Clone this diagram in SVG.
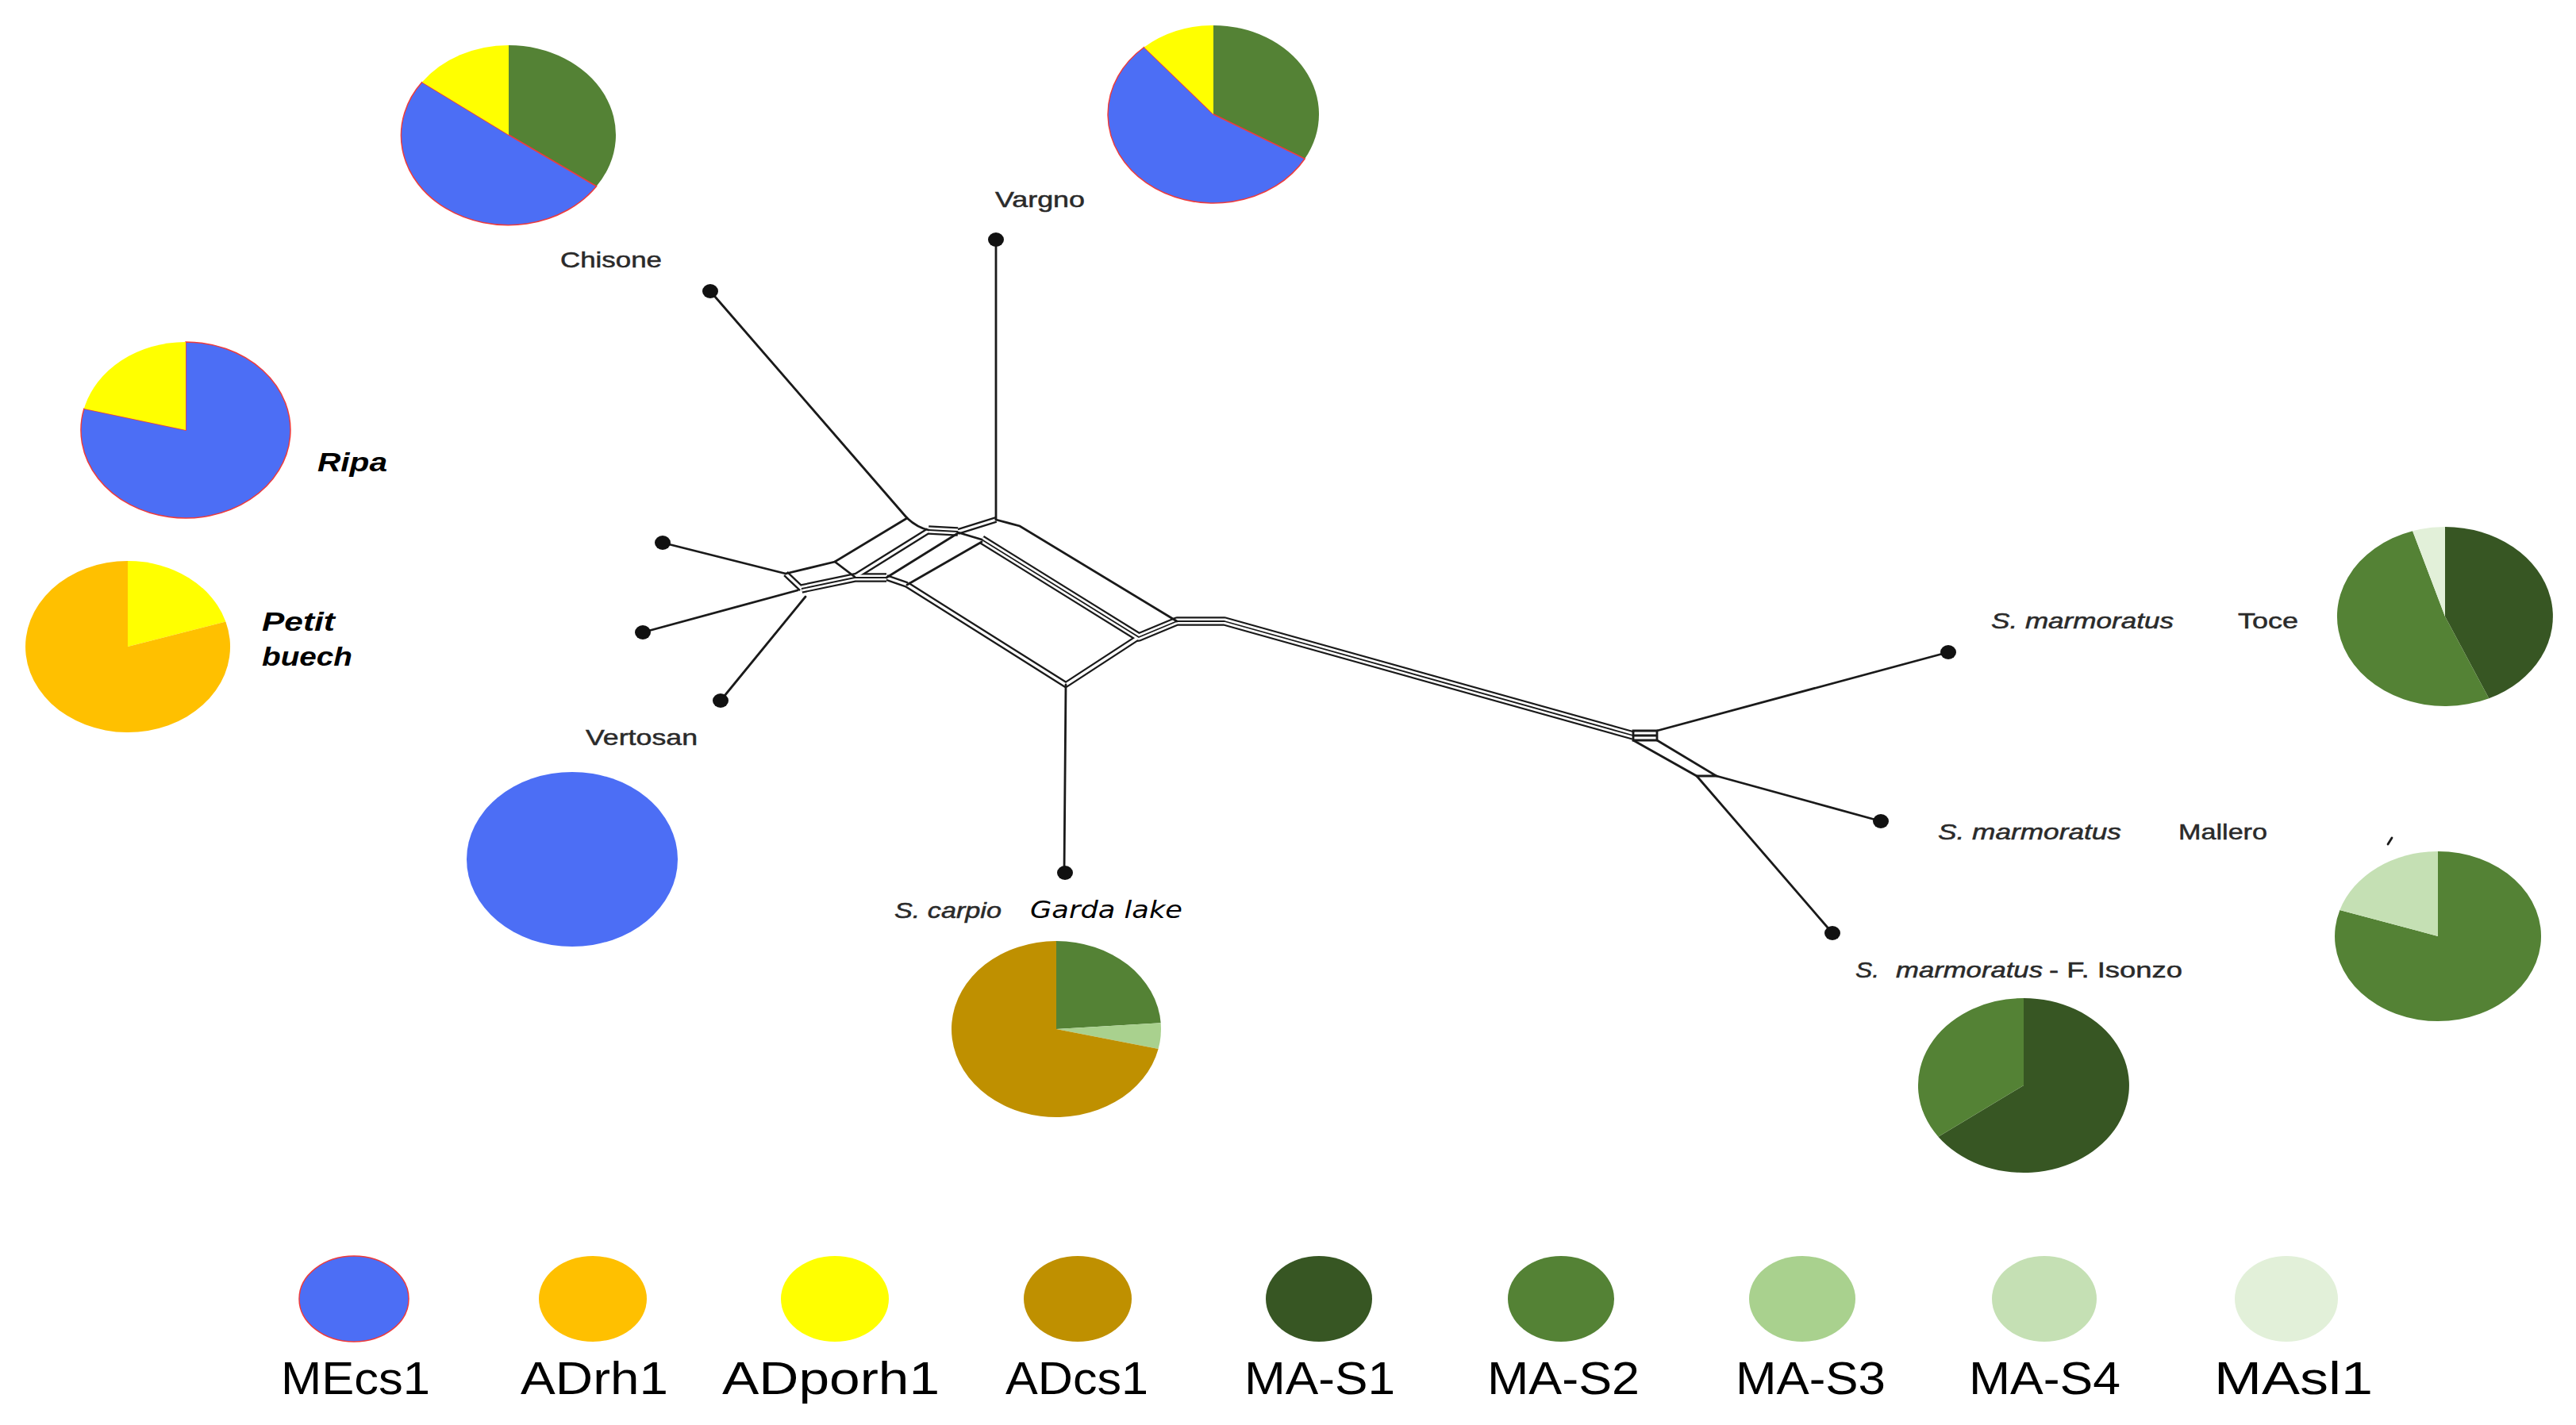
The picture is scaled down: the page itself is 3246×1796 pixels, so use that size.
<svg xmlns="http://www.w3.org/2000/svg" width="3246" height="1796" viewBox="0 0 3246 1796">
<style>
.s{fill:none;stroke:#1a1a1a;stroke-width:2.8;stroke-linecap:round}
.o2{fill:none;stroke:#1a1a1a;stroke-width:8;stroke-linejoin:round}
.i2{fill:none;stroke:#fff;stroke-width:3.4;stroke-linejoin:round}
.o3{fill:none;stroke:#1a1a1a;stroke-width:11.5;stroke-linejoin:round}
.i3{fill:none;stroke:#fff;stroke-width:7.2;stroke-linejoin:round}
.c3{fill:none;stroke:#1a1a1a;stroke-width:1.8;stroke-linejoin:round}
.dot{fill:#111}
.lbl{font-family:"Liberation Sans",Arial,sans-serif;fill:#2a2a2a;stroke:#2a2a2a;stroke-width:0.5;font-size:28px}
.it{font-style:italic}
.bi{font-family:"Liberation Sans",Arial,sans-serif;font-weight:bold;font-style:italic;fill:#000;font-size:34px}
.leg{font-family:"Liberation Sans",Arial,sans-serif;fill:#000;font-size:58px}
.blue{fill:#4c6ef5}
.bluee{fill:#4c6ef5;stroke:#ef3b3b;stroke-width:1.5}
.yel{fill:#ffff00}
.org{fill:#ffc000}
.gold{fill:#bf9000}
.g1{fill:#375623}
.g2{fill:#548235}
.g3{fill:#a9d18e}
.g4{fill:#c5e0b4}
.g5{fill:#e2f0d9}
</style>
<defs>
  <path id="b2" d="M1207,670 L1255,655 M1170,669 L1077,727 M1143,737 L1343,863 L1435,803 M990,723 L1010,742 M1117,728 L1143,737"/>
  <path id="b3" d="M1170,668 L1207,670 M1237,680 L1435,803 L1483,783 L1543,783 L2058,927 M1010,742 L1077,728 L1117,728"/>
</defs>

<g id="connectors">
  <use href="#b2" class="o2"/>
  <use href="#b3" class="o3"/>
  <use href="#b2" class="i2"/>
  <use href="#b3" class="i3"/>
  <use href="#b3" class="c3"/>
  <path class="s" d="M895,367 L1143,653"/>
  <path class="s" d="M1143,653 Q1156,665 1170,668"/>
  <path class="s" d="M1143,653 L1052,708 L990,723"/>
  <path class="s" d="M1052,708 L1077,727"/>
  <path class="s" d="M1255,302 L1255,655"/>
  <path class="s" d="M1207,671 L1237,680"/>
  <path class="s" d="M1255,655 L1285,663 L1483,783"/>
  <path class="s" d="M1207,672 L1117,728"/>
  <path class="s" d="M1237,683 L1143,737"/>
  <path class="s" d="M1343,863 L1341,1099"/>
  <path class="s" d="M835,684 L990,723"/>
  <path class="s" d="M810,797 L1005,744"/>
  <path class="s" d="M908,883 L1015,752"/>
  <path class="s" d="M2058,921 L2088,921 L2088,933 L2058,933 Z M2058,927 L2088,927"/>
  <path class="s" d="M2088,921 L2455,822"/>
  <path class="s" d="M2058,933 L2138,978 L2163,978 L2088,933"/>
  <path class="s" d="M2163,978 L2370,1035"/>
  <path class="s" d="M2138,978 L2309,1176"/>
  <path class="s" d="M3014,1056 L3009,1064"/>
</g>

<g id="tips">
  <ellipse class="dot" cx="895" cy="367" rx="10" ry="9"/>
  <ellipse class="dot" cx="1255" cy="302" rx="10" ry="9"/>
  <ellipse class="dot" cx="835" cy="684" rx="10" ry="9"/>
  <ellipse class="dot" cx="810" cy="797" rx="10" ry="9"/>
  <ellipse class="dot" cx="908" cy="883" rx="10" ry="9"/>
  <ellipse class="dot" cx="1342" cy="1100" rx="10" ry="9"/>
  <ellipse class="dot" cx="2455" cy="822" rx="10" ry="9"/>
  <ellipse class="dot" cx="2370" cy="1035" rx="10" ry="9"/>
  <ellipse class="dot" cx="2309" cy="1176" rx="10" ry="9"/>
</g>

<g id="pie-chisone">
  <path class="g2" d="M641,170 L641,57 A135,113 0 0 1 751.6,234.8 Z"/>
  <path class="bluee" d="M641,170 L751.6,234.8 A135,113 0 1 1 531.8,103.6 Z"/>
  <path class="yel" d="M641,170 L531.8,103.6 A135,113 0 0 1 641,57 Z"/>
  <text class="lbl" x="706" y="337" textLength="128" lengthAdjust="spacingAndGlyphs">Chisone</text>
</g>

<g id="pie-vargno">
  <path class="g2" d="M1529,144 L1529,32 A133,112 0 0 1 1644.2,200 Z"/>
  <path class="bluee" d="M1529,144 L1644.2,200 A133,112 0 1 1 1441.7,59.5 Z"/>
  <path class="yel" d="M1529,144 L1441.7,59.5 A133,112 0 0 1 1529,32 Z"/>
  <text class="lbl" x="1254" y="261" textLength="113" lengthAdjust="spacingAndGlyphs">Vargno</text>
</g>

<g id="pie-ripa">
  <path class="bluee" d="M234,542 L234,431 A132,111 0 1 1 105.9,515.1 Z"/>
  <path class="yel" d="M234,542 L105.9,515.1 A132,111 0 0 1 234,431 Z"/>
  <text class="bi" x="400" y="594" textLength="88" lengthAdjust="spacingAndGlyphs">Ripa</text>
</g>

<g id="pie-petit-buech">
  <path class="yel" d="M161,815 L161,707 A129,108 0 0 1 284.4,783.4 Z"/>
  <path class="org" d="M161,815 L284.4,783.4 A129,108 0 1 1 161,707 Z"/>
  <text class="bi" x="330" y="795" textLength="92" lengthAdjust="spacingAndGlyphs">Petit</text>
  <text class="bi" x="330" y="839" textLength="114" lengthAdjust="spacingAndGlyphs">buech</text>
</g>

<g id="pie-vertosan">
  <ellipse class="blue" cx="721" cy="1083" rx="133" ry="110"/>
  <text class="lbl" x="738" y="939" textLength="141" lengthAdjust="spacingAndGlyphs">Vertosan</text>
</g>

<g id="pie-garda">
  <path class="g2" d="M1331,1297 L1331,1186 A132,111 0 0 1 1462.7,1289.3 Z"/>
  <path class="g3" d="M1331,1297 L1462.7,1289.3 A132,111 0 0 1 1459.6,1322 Z"/>
  <path class="gold" d="M1331,1297 L1459.6,1322 A132,111 0 1 1 1331,1186 Z"/>
  <text class="lbl it" x="1127" y="1157" font-size="30" textLength="135" lengthAdjust="spacingAndGlyphs" fill="#333">S. carpio</text>
  <text x="1298" y="1157" font-family="'DejaVu Sans',Verdana,sans-serif" font-style="italic" font-size="31" fill="#000" textLength="192" lengthAdjust="spacingAndGlyphs">Garda lake</text>
</g>

<g id="pie-toce">
  <path class="g1" d="M3081,777 L3081,664 A136,113 0 0 1 3136.3,880.2 Z"/>
  <path class="g2" d="M3081,777 L3136.3,880.2 A136,113 0 1 1 3040.1,669.2 Z"/>
  <path class="g5" d="M3081,777 L3040.1,669.2 A136,113 0 0 1 3081,664 Z"/>
  <text class="lbl it" x="2509" y="792" font-size="26" textLength="230" lengthAdjust="spacingAndGlyphs">S. marmoratus</text>
  <text class="lbl" x="2820" y="792" font-size="26" textLength="76" lengthAdjust="spacingAndGlyphs">Toce</text>
</g>

<g id="pie-mallero">
  <path class="g2" d="M3072,1180 L3072,1073 A130,107 0 1 1 2948.4,1146.9 Z"/>
  <path class="g4" d="M3072,1180 L2948.4,1146.9 A130,107 0 0 1 3072,1073 Z"/>
  <text class="lbl it" x="2442" y="1058" font-size="26" textLength="231" lengthAdjust="spacingAndGlyphs">S. marmoratus</text>
  <text class="lbl" x="2745" y="1058" font-size="26" textLength="112" lengthAdjust="spacingAndGlyphs">Mallero</text>
</g>

<g id="pie-isonzo">
  <path class="g1" d="M2550,1368 L2550,1258 A133,110 0 1 1 2442.4,1432.7 Z"/>
  <path class="g2" d="M2550,1368 L2442.4,1432.7 A133,110 0 0 1 2550,1258 Z"/>
  <text class="lbl it" x="2338" y="1232" font-size="26" textLength="30" lengthAdjust="spacingAndGlyphs">S.</text>
  <text class="lbl it" x="2389" y="1232" font-size="26" textLength="185" lengthAdjust="spacingAndGlyphs">marmoratus</text>
  <text class="lbl" x="2582" y="1232" font-size="26" textLength="168" lengthAdjust="spacingAndGlyphs">- F. Isonzo</text>
</g>

<g id="legend">
  <ellipse class="bluee" cx="446" cy="1637" rx="69" ry="54"/>
  <ellipse class="org" cx="747" cy="1637" rx="68" ry="54"/>
  <ellipse class="yel" cx="1052" cy="1637" rx="68" ry="54"/>
  <ellipse class="gold" cx="1358" cy="1637" rx="68" ry="54"/>
  <ellipse class="g1" cx="1662" cy="1637" rx="67" ry="54"/>
  <ellipse class="g2" cx="1967" cy="1637" rx="67" ry="54"/>
  <ellipse class="g3" cx="2271" cy="1637" rx="67" ry="54"/>
  <ellipse class="g4" cx="2576" cy="1637" rx="66" ry="54"/>
  <ellipse class="g5" cx="2881" cy="1637" rx="65" ry="54"/>
  <text class="leg" x="354" y="1757" textLength="188" lengthAdjust="spacingAndGlyphs">MEcs1</text>
  <text class="leg" x="656" y="1757" textLength="186" lengthAdjust="spacingAndGlyphs">ADrh1</text>
  <text class="leg" x="910" y="1757" textLength="274" lengthAdjust="spacingAndGlyphs">ADporh1</text>
  <text class="leg" x="1267" y="1757" textLength="180" lengthAdjust="spacingAndGlyphs">ADcs1</text>
  <text class="leg" x="1568" y="1757" textLength="190" lengthAdjust="spacingAndGlyphs">MA-S1</text>
  <text class="leg" x="1874" y="1757" textLength="192" lengthAdjust="spacingAndGlyphs">MA-S2</text>
  <text class="leg" x="2187" y="1757" textLength="189" lengthAdjust="spacingAndGlyphs">MA-S3</text>
  <text class="leg" x="2481" y="1757" textLength="191" lengthAdjust="spacingAndGlyphs">MA-S4</text>
  <text class="leg" x="2790" y="1757" textLength="200" lengthAdjust="spacingAndGlyphs">MAsl1</text>
</g>
</svg>
